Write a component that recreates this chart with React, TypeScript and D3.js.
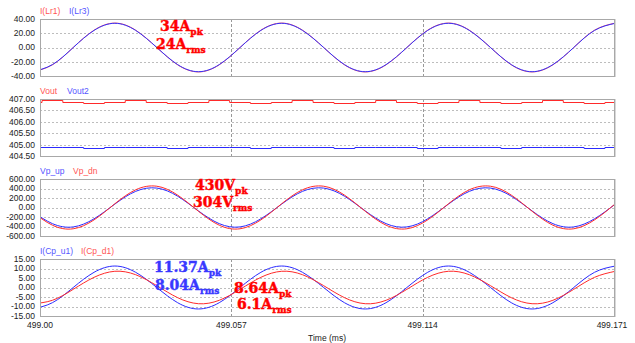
import * as d3 from "d3";

// sample times (ms), eighth-period steps of the ~20 kHz waveform
const timeMs = [
  498.9975, 499.0037, 499.0099, 499.0161, 499.0223, 499.0285, 499.0348, 499.041,
  499.0472, 499.0534, 499.0596, 499.0658, 499.072, 499.0782, 499.0845, 499.0907,
  499.0969, 499.1031, 499.1093, 499.1155, 499.1217, 499.1279, 499.1342, 499.1404,
  499.1466, 499.1528, 499.159, 499.1652, 499.1714,
];

// panel 1: resonant currents (A)
const iLr1 = [
  -34.3, -24.3, 0, 24.3, 34.3, 24.3, 0, -24.3, -34.3, -24.3, 0, 24.3, 34.3, 24.3, 0,
  -24.3, -34.3, -24.3, 0, 24.3, 34.3, 24.3, 0, -24.3, -34.3, -24.3, 0, 24.3, 34.3,
];
const iLr3 = [
  -34, -24, 0, 24, 34, 24, 0, -24, -34, -24, 0, 24, 34, 24, 0, -24, -34, -24, 0, 24,
  34, 24, 0, -24, -34, -24, 0, 24, 34,
];

// panel 2: output voltages (V)
const vOut = [
  406.89, 406.94, 406.89, 406.84, 406.89, 406.94, 406.89, 406.84, 406.89, 406.94,
  406.89, 406.84, 406.89, 406.94, 406.89, 406.84, 406.89, 406.94, 406.89, 406.84,
  406.89, 406.94, 406.89, 406.84, 406.89, 406.94, 406.89, 406.84, 406.89,
];
const vOut2 = [
  404.88, 404.89, 404.88, 404.85, 404.88, 404.89, 404.88, 404.85, 404.88, 404.89,
  404.88, 404.85, 404.88, 404.89, 404.88, 404.85, 404.88, 404.89, 404.88, 404.85,
  404.88, 404.89, 404.88, 404.85, 404.88, 404.89, 404.88, 404.85, 404.88,
];

// panel 3: primary voltages (V)
const vpUp = [
  -72, -340, -409, -238, 72, 340, 409, 238, -72, -340, -409, -238, 72, 340, 409, 238,
  -72, -340, -409, -238, 72, 340, 409, 238, -72, -340, -409, -238, 72,
];
const vpDn = [
  -79, -373, -448, -261, 79, 373, 448, 261, -79, -373, -448, -261, 79, 373, 448, 261,
  -79, -373, -448, -261, 79, 373, 448, 261, -79, -373, -448, -261, 79,
];

// panel 4: capacitor currents (A)
const iCpU1 = [
  -11.3, -8, 0, 8, 11.3, 8, 0, -8, -11.3, -8, 0, 8, 11.3, 8, 0, -8, -11.3, -8, 0, 8,
  11.3, 8, 0, -8, -11.3, -8, 0, 8, 11.3,
];
const iCpD1 = [
  -8.54, -6.73, -0.97, 5.35, 8.54, 6.73, 0.97, -5.35, -8.54, -6.73, -0.97, 5.35, 8.54,
  6.73, 0.97, -5.35, -8.54, -6.73, -0.97, 5.35, 8.54, 6.73, 0.97, -5.35, -8.54, -6.73,
  -0.97, 5.35, 8.54,
];

const xTicks = [499.0, 499.057, 499.114, 499.171];
const xTickLabels = ["499.00", "499.057", "499.114", "499.171"];

const RED = "#ff2a2a";
const BLUE = "#2a2aff";
const RED_TXT = "#ff5555";
const BLUE_TXT = "#5555ff";

const panels = [
  {
    domain: [-40, 40],
    ticks: [40, 20, 0, -20, -40],
    series: [
      { name: "I(Lr1)", values: iLr1, color: "#ff6060", txt: RED_TXT },
      { name: "I(Lr3)", values: iLr3, color: "#3030ff", txt: BLUE_TXT },
    ],
    legendX: [40, 69],
    step: false,
  },
  {
    domain: [404.5, 407],
    ticks: [407, 406.5, 406, 405.5, 405, 404.5],
    series: [
      { name: "Vout", values: vOut, color: RED, txt: RED_TXT },
      { name: "Vout2", values: vOut2, color: BLUE, txt: BLUE_TXT },
    ],
    legendX: [40, 67],
    step: true,
  },
  {
    domain: [-600, 600],
    ticks: [600, 400, 200, 0, -200, -400, -600],
    series: [
      { name: "Vp_up", values: vpUp, color: BLUE, txt: BLUE_TXT },
      { name: "Vp_dn", values: vpDn, color: RED, txt: RED_TXT },
    ],
    legendX: [40, 73],
    step: false,
  },
  {
    domain: [-15, 15],
    ticks: [15, 10, 5, 0, -5, -10, -15],
    series: [
      { name: "I(Cp_u1)", values: iCpU1, color: BLUE, txt: BLUE_TXT },
      { name: "I(Cp_d1)", values: iCpD1, color: RED, txt: RED_TXT },
    ],
    legendX: [40, 81],
    step: false,
  },
];

const notes = [
  { text: "34A", sub: "pk", x: 160, y: 31, color: "#ff0000" },
  { text: "24A", sub: "rms", x: 156, y: 49, color: "#ff0000" },
  { text: "430V", sub: "pk", x: 195, y: 190, color: "#ff0000" },
  { text: "304V", sub: "rms", x: 193, y: 207, color: "#ff0000" },
  { text: "11.37A", sub: "pk", x: 154, y: 272, color: "#3838ff" },
  { text: "8.04A", sub: "rms", x: 155, y: 290, color: "#3838ff" },
  { text: "8.64A", sub: "pk", x: 234, y: 293, color: "#ff0000" },
  { text: "6.1A", sub: "rms", x: 237, y: 309, color: "#ff0000" },
];

const left = 40;
const right = 614;
const panelH = 57;
const panelTop = (i: number) => 19 + i * 80;
const font = "'Liberation Sans', Arial, sans-serif";

export default function App() {
  const x = d3.scaleLinear().domain([499.0, 499.171]).range([left, right]);

  return (
    <svg
      width={635}
      height={343}
      style={{ position: "absolute", left: 0, top: 0, background: "#fff" }}
    >
      <defs>
        {panels.map((_, i) => (
          <clipPath id={`clip${i}`} key={i}>
            <rect x={left} y={panelTop(i)} width={right - left} height={panelH} />
          </clipPath>
        ))}
      </defs>

      {panels.map((p, i) => {
        const top = panelTop(i);
        const y = d3.scaleLinear().domain(p.domain).range([top + panelH, top]);
        const line = d3
          .line<number>()
          .x((_, j) => x(timeMs[j]))
          .y((d) => (p.step ? Math.round(y(d)) + 0.5 : y(d)))
          .curve(p.step ? d3.curveStep : d3.curveNatural);
        return (
          <g key={i}>
            {/* horizontal grid */}
            {p.ticks.slice(1, -1).map((t) => (
              <line
                key={t}
                x1={left}
                x2={right}
                y1={Math.round(y(t)) + 0.5}
                y2={Math.round(y(t)) + 0.5}
                stroke="#bdbdbd"
                strokeDasharray="2,2"
              />
            ))}
            {/* vertical grid */}
            {xTicks.slice(1, -1).map((t) => (
              <line
                key={t}
                x1={Math.round(x(t)) + 0.5}
                x2={Math.round(x(t)) + 0.5}
                y1={top}
                y2={top + panelH}
                stroke="#999"
                strokeDasharray="3,2"
              />
            ))}
            {/* tick labels */}
            {p.ticks.map((t) => (
              <text
                key={t}
                x={35}
                y={y(t)}
                dy="0.35em"
                textAnchor="end"
                fontFamily={font}
                fontSize={8.5}
                fill="#222"
              >
                {t.toFixed(2)}
              </text>
            ))}
            {/* legend */}
            {p.series.map((s, j) => (
              <text
                key={s.name}
                x={p.legendX[j]}
                y={top - 5}
                fontFamily={font}
                fontSize={8.5}
                fill={s.txt}
              >
                {s.name}
              </text>
            ))}
            {/* traces */}
            <g clipPath={`url(#clip${i})`}>
              {p.series.map((s) => (
                <path
                  key={s.name}
                  d={line(s.values) ?? ""}
                  fill="none"
                  stroke={s.color}
                  strokeWidth={1}
                />
              ))}
            </g>
            {/* frame */}
            <line x1={right + 1.5} x2={right + 1.5} y1={top} y2={top + panelH + 1} stroke="#d8d8d8" />
            <rect
              x={left + 0.5}
              y={top + 0.5}
              width={right - left}
              height={panelH}
              fill="none"
              stroke="#a8a8a8"
            />
          </g>
        );
      })}

      {/* x axis labels */}
      {xTicks.map((t, i) => (
        <text
          key={t}
          x={i === xTicks.length - 1 ? x(t) - 2 : x(t)}
          y={328}
          textAnchor="middle"
          fontFamily={font}
          fontSize={8.5}
          fill="#222"
        >
          {xTickLabels[i]}
        </text>
      ))}
      <text x={327} y={341} textAnchor="middle" fontFamily={font} fontSize={8.5} fill="#222">
        Time (ms)
      </text>

      {/* annotations */}
      {notes.map((n) => (
        <text
          key={n.text}
          x={n.x}
          y={n.y}
          fontFamily="'DejaVu Serif', serif"
          fontWeight="bold"
          fontSize={14}
          fill={n.color}
          stroke={n.color}
          strokeWidth={0.45}
        >
          {n.text}
          <tspan fontSize={9} dy={4}>
            {n.sub}
          </tspan>
        </text>
      ))}
    </svg>
  );
}
